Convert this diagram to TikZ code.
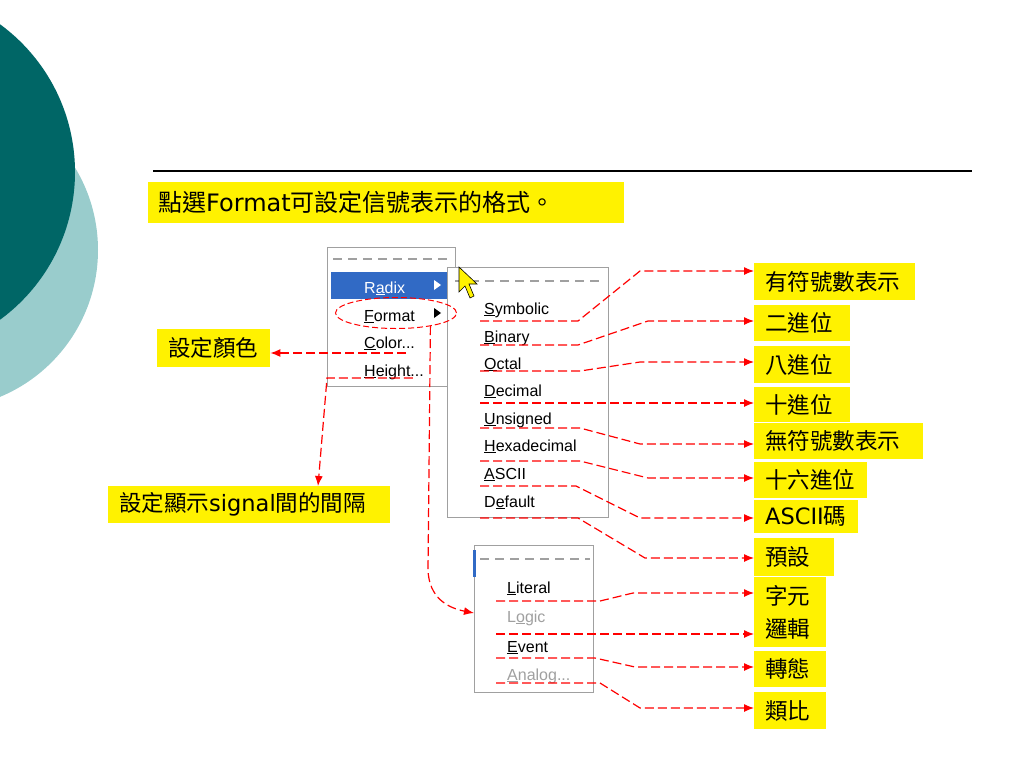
\documentclass[tikz,border=0pt]{standalone}
\usepackage{fontspec}
\setmainfont{DejaVu Sans}
\newfontfamily\cjk{Noto Sans CJK TC}
\newfontfamily\menufont{Liberation Sans}
\usetikzlibrary{shapes.geometric,arrows.meta}
\definecolor{darkteal}{RGB}{0,102,102}
\definecolor{paleteal}{RGB}{153,204,204}
\definecolor{xpblue}{RGB}{49,106,197}
\definecolor{menugray}{RGB}{160,160,160}

\begin{document}
\begin{tikzpicture}[x=1pt,y=-1pt,
        lab/.style={fill=yellow, inner sep=0pt, anchor=north west},
        tag/.style={anchor=west, inner sep=0pt, align=left,
                        font=\fontsize{22.5}{33}\selectfont\cjk},
        item/.style={anchor=base west, inner sep=0pt,
                        font=\fontsize{16}{19}\selectfont\menufont},
        off/.style={item, text=menugray},
        menu/.style={draw=menugray, line width=1pt, fill=white,
                        inner sep=0pt, anchor=north west},
        sep/.style={menugray, line width=1.5pt, dash pattern=on 9pt off 6pt},
        link/.style={red, line width=1.2pt, dash pattern=on 9pt off 4pt,
                        -{Latex[length=10pt,width=8pt]}}]
    \useasboundingbox (0,0) rectangle (1024,768);
    \clip (0,0) rectangle (1024,768);
    % background
    \fill[paleteal] (-61,250) circle[radius=159pt];
    \fill[darkteal] (-108,172) circle[radius=183pt];
    \draw[line width=1.2pt] (153,171) -- (972,171);
    \node[lab, minimum width=476pt, minimum height=41pt] (ttl) at (148,182) {};
    \node[anchor=west, inner sep=0pt, font=\fontsize{24}{28}\selectfont] (ttl-t)
        at ([xshift=10pt]ttl.west) {{\cjk 點選}Format{\cjk 可設定信號表示的格式。}};
    % first menu
    \node[menu, minimum width=128pt, minimum height=139pt] (m1) at (327,247) {};
    \draw[sep] (333,259) -- (450,259);
    \fill[xpblue] (331,272) rectangle (447,299);
    \node[item, text=white] (radix) at (364,293) {R\underline{a}dix};
    \node[item] (fmt) at (364,321) {\underline{F}ormat};
    \node[item] (col) at (364,348) {\underline{C}olor...};
    \node[item] (hgt) at (364,376) {\underline{H}eight...};
    \fill[white] (434,280) -- (441,285) -- (434,290) -- cycle;
    \fill (434,308) -- (441,313) -- (434,318) -- cycle;
    % radix submenu
    \node[menu, minimum width=161pt, minimum height=250pt] (m2) at (447,267) {};
    \draw[sep] (455,281) -- (600,281);
    \foreach \n/\y/\txt in {symb/314/\underline{S}ymbolic, bin/342/\underline{B}inary,
            oct/369/\underline{O}ctal, dec/396/\underline{D}ecimal,
            uns/424/\underline{U}nsigned, hex/451/\underline{H}exadecimal,
            asc/479/\underline{A}SCII, dflt/507/D\underline{e}fault}
        \node[item] (\n) at (484,\y) {\txt};
    \filldraw[fill=yellow, draw=black, line width=0.6pt]
        (459,267) -- (459,292) -- (465,286) -- (470,298) -- (474,296)
        -- (469,284) -- (477,284) -- cycle;
    % format submenu
    \node[menu, minimum width=119pt, minimum height=147pt] (m3) at (474,545) {};
    \fill[xpblue] (473,550) rectangle (476,577);
    \draw[sep] (480,559) -- (590,559);
    \node[item] (lit) at (507,593) {\underline{L}iteral};
    \node[off] (lgc) at (507,622) {L\underline{o}gic};
    \node[item] (evt) at (507,652) {\underline{E}vent};
    \node[off] (ana) at (507,680) {\underline{A}nalog...};
    \node[draw=red, ellipse, line width=1pt, dash pattern=on 6pt off 3pt,
        minimum width=121pt, minimum height=31pt] (ring) at (396,313) {};
    % labels
    \node[lab, minimum width=113pt, minimum height=38pt] (lcol) at (157,329) {};
    \node[tag] (lcol-t) at ([xshift=11pt]lcol.west) {設定顏色};
    \node[lab, minimum width=282pt, minimum height=37pt] (lsig) at (108,486) {};
    \node[tag] (lsig-t) at ([xshift=11pt]lsig.west) {設定顯示{\rmfamily signal}間的間隔};
    \foreach \n/\ya/\yb/\xr/\txt in {l1/263/300/915/有符號數表示, l2/305/341/850/二進位,
            l3/346/383/850/八進位, l4/387/422/850/十進位, l5/423/459/923/無符號數表示,
            l6/462/498/867/十六進位, l7/500/533/858/{{\rmfamily ASCII}碼},
            l8/538/576/834/預設, l9/577/647/826/{字元\\邏輯},
            l10/651/687/826/轉態, l11/692/729/826/類比} {
        \node[lab, minimum width=(\xr-754)*1pt, minimum height=(\yb-\ya)*1pt] (\n) at (754,\ya) {};
        \node[tag] (\n-t) at ([xshift=11pt]\n.west) {\txt};
    }
    % connectors
    \foreach \n/\o/\u/\e/\kx/\ky/\l in {symb/4/321/578/640/271/l1, bin/4/345/578/648/321/l2,
            oct/4/371/580/640/362/l3, dec/4/403/640/640/403/l4, uns/4/428/580/640/444/l5,
            hex/4/461/580/648/478/l6, asc/4/486/576/640/518/l7, dflt/4/518/578/645/558/l8,
            lit/11/601/600/633/593/l9, lgc/11/634/640/640/634/l9,
            evt/11/658/595/635/667/l10, ana/11/683/600/640/708/l11}
        \draw[link] (\n.west |- 0,\u) ++(-\o,0) -- (\e,\u) -- (\kx,\ky) -- (\l.west |- 0,\ky);
    \draw[link] (col.east |- 0,353) ++(-9,0) -- (lcol.east |- 0,353);
    \draw[link] (hgt.east |- 0,378) ++(-11,0) -- (m1.west |- 0,378) -- (lsig.north -| 318,0);
    \draw[link] (ring.-21) -- (428,570) .. controls (429,598) and (448,608) .. ([yshift=6pt]m3.west);
\end{tikzpicture}
\end{document}
